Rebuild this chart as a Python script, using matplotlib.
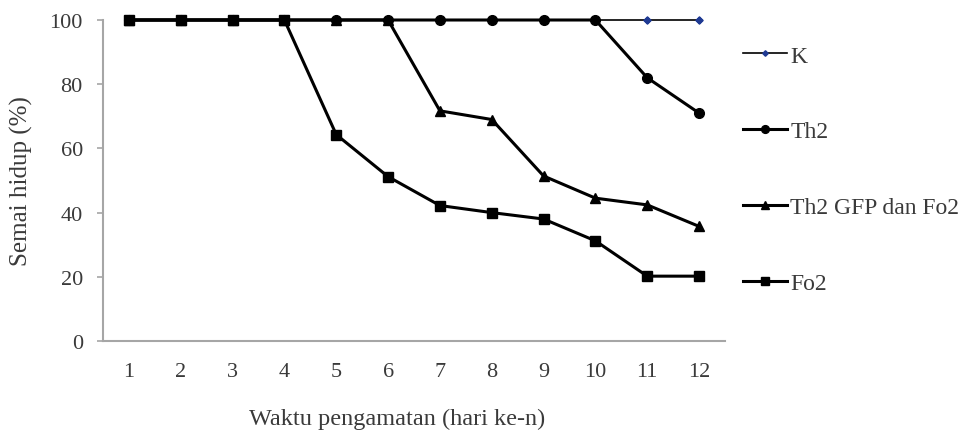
import matplotlib
matplotlib.use("Agg")
import matplotlib.pyplot as plt

days = [1, 2, 3, 4, 5, 6, 7, 8, 9, 10, 11, 12]
k_vals = [100, 100, 100, 100, 100, 100, 100, 100, 100, 100, 100, 100]
th2_vals = [100, 100, 100, 100, 100, 100, 100, 100, 100, 100, 82, 71]
th2gfp_fo2_vals = [100, 100, 100, 100, 100, 100, 71.7, 69, 51.4, 44.5, 42.4, 35.7]
fo2_vals = [100, 100, 100, 100, 64.3, 51.2, 42.2, 40, 38, 31.2, 20.2, 20.2]
labels = ["K", "Th2", "Th2 GFP dan Fo2", "Fo2"]
yticks = [0, 20, 40, 60, 80, 100]

plt.rcParams['font.family'] = ['Liberation Serif', 'DejaVu Serif']
txt = '#3a3a3a'
grey = '#a6a6a6'

fig = plt.figure(figsize=(9.68, 4.35), dpi=100)
ax = fig.add_axes([103/968, 1-342/435, (725-103)/968, (342-21)/435])

lk, = ax.plot(days, k_vals, color='black', lw=1.2, marker='D', ms=3.5,
              mfc='#1f3a93', mec='#1f3a93', clip_on=False, zorder=3)
lg, = ax.plot(days, th2gfp_fo2_vals, color='black', lw=2.2, marker='^', ms=6.5,
              clip_on=False, zorder=4)
lt, = ax.plot(days, th2_vals, color='black', lw=2.2, marker='o', ms=7,
              clip_on=False, zorder=5)
lf, = ax.plot(days, fo2_vals, color='black', lw=2.2, marker='s', ms=7,
              clip_on=False, zorder=6)
ax.plot(days[10:], k_vals[10:], ls='none', marker='D', ms=3.5,
        mfc='#1f3a93', mec='#1f3a93', clip_on=False, zorder=7)

ax.set_xlim(0.5, 12.5)
ax.set_ylim(0, 100)
ax.set_xticks(days)
ax.set_xticklabels([str(d) for d in days])
ax.set_yticks(yticks)
for s in ['top', 'right']:
    ax.spines[s].set_visible(False)
for s in ['left', 'bottom']:
    ax.spines[s].set_color(grey)
    ax.spines[s].set_linewidth(1.5)
ax.tick_params(axis='x', length=0, pad=15, labelsize=16, labelcolor=txt)
ax.tick_params(axis='y', length=4.5, width=1.2, color=grey, pad=10, labelsize=16, labelcolor=txt)

ax.set_xlabel("Waktu pengamatan (hari ke-n)", fontsize=17.5, color=txt)
ax.xaxis.set_label_coords((397-103)/(725-103), -(419-342)/(342-21))
ax.xaxis.label.set_va('center')
ax.set_ylabel("Semai hidup (%)", fontsize=18, color=txt, labelpad=12)

leg = fig.legend([lk, lt, lg, lf], labels, loc='upper left',
                 bbox_to_anchor=(743/968, 1-46/435), frameon=False, borderpad=0,
                 borderaxespad=0,
                 fontsize=17, labelspacing=2.3, handlelength=1.85,
                 handletextpad=0.15, labelcolor=txt, markerscale=0.8)

fig.savefig("out.png", dpi=100)
